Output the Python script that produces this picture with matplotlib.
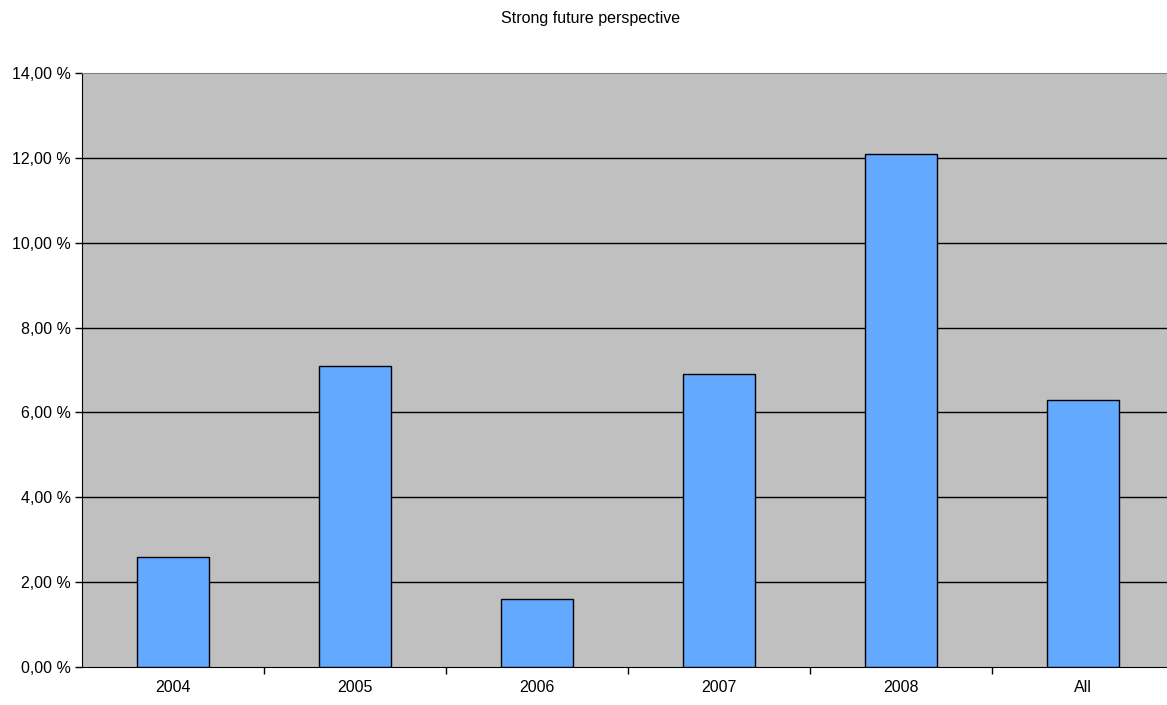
import matplotlib
matplotlib.use("Agg")
import matplotlib.pyplot as plt
from matplotlib.ticker import FixedLocator, FuncFormatter
import numpy as np

categories = ["2004", "2005", "2006", "2007", "2008", "All"]
values = [2.6, 7.1, 1.6, 6.9, 12.1, 6.3]
yticks = [0, 2, 4, 6, 8, 10, 12, 14]

plt.rcParams['font.family'] = ['Liberation Sans', 'DejaVu Sans']

W, H = 1167, 705
fig = plt.figure(figsize=(W / 100, H / 100), dpi=100)
ax = fig.add_axes([82 / W, 38 / H, (1174 - 82) / W, (667 - 73) / H])
ax.set_facecolor('#C0C0C0')

x = np.arange(len(categories))
ax.bar(x, values, width=0.4, color='#62A9FF', edgecolor='black', linewidth=1.0, zorder=3)

ax.set_xlim(-0.5, len(categories) - 0.5)
ax.set_ylim(0, 14)
ax.set_yticks(yticks)
ax.yaxis.set_major_formatter(FuncFormatter(lambda v, p: f"{v:.2f}".replace('.', ',') + " %"))
for y in yticks[1:-1]:
    ax.axhline(y, color='black', linewidth=1.0, zorder=1)

ax.set_xticks(x)
ax.set_xticklabels(categories)
ax.xaxis.set_minor_locator(FixedLocator(np.arange(-0.5, len(categories), 1.0)[1:]))
ax.tick_params(axis='x', which='major', length=0, pad=9, labelsize=11.5)
ax.tick_params(axis='x', which='minor', length=5, width=1, color='black', direction='out')
ax.tick_params(axis='y', length=5, width=1, direction='out', labelsize=11.5, pad=3)

ax.spines['right'].set_visible(False)
ax.spines['top'].set_color('#808080')
ax.spines['left'].set_color('black')
ax.spines['bottom'].set_color('black')

fig.text(591 / W, 1 - 18 / H, "Strong future perspective", ha='center', va='center', fontsize=11.5)

fig.savefig("out.png", dpi=100)
